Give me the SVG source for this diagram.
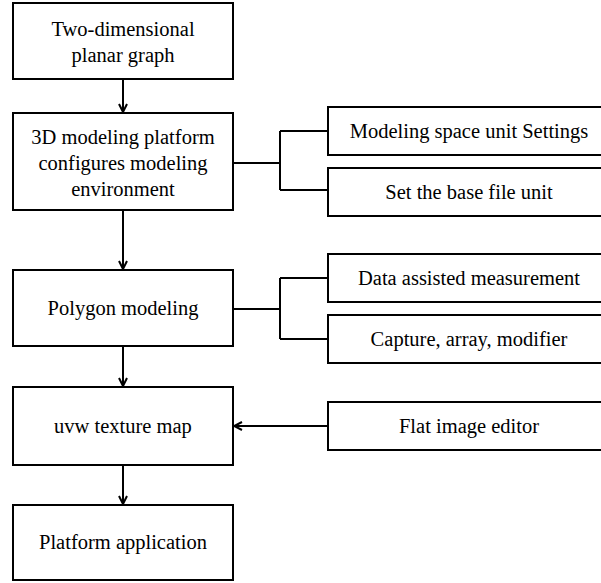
<svg xmlns="http://www.w3.org/2000/svg" width="601" height="583" viewBox="0 0 601 583">
  <style>
    .box { fill: #ffffff; stroke: #000000; stroke-width: 2; }
    .lbl { font-family: "Liberation Serif", "Times New Roman", Times, serif; font-size: 20.5px; fill: #000000; text-anchor: middle; }
    .wire { fill: none; stroke: #000000; stroke-width: 2; }
  </style>
  <defs>
    <!-- open chevron arrowhead -->
    <marker id="chev" viewBox="0 0 10 10" refX="9" refY="5" markerWidth="10" markerHeight="10" markerUnits="userSpaceOnUse" orient="auto">
      <path d="M1,1 L9,5 L1,9" fill="none" stroke="#000000" stroke-width="2"/>
    </marker>
  </defs>
  <rect width="601" height="583" fill="#ffffff"/>

  <g id="connectors">
    <line class="wire" x1="123" y1="79" x2="123" y2="112" marker-end="url(#chev)"/>
    <line class="wire" x1="123" y1="211" x2="123" y2="269" marker-end="url(#chev)"/>
    <line class="wire" x1="123" y1="347" x2="123" y2="386" marker-end="url(#chev)"/>
    <line class="wire" x1="123" y1="466" x2="123" y2="504" marker-end="url(#chev)"/>
    <!-- bracket joins to the side boxes -->
    <path class="wire" d="M233,163 H280 M280,131 V190 M280,131 H328 M280,190 H328"/>
    <path class="wire" d="M233,309 H280 M280,278 V339 M280,278 H328 M280,339 H328"/>
    <line class="wire" x1="328" y1="426" x2="234" y2="426" marker-end="url(#chev)"/>
  </g>

  <g id="planar-graph">
    <rect class="box" x="13" y="3" width="220" height="76"/>
    <text class="lbl" x="123" y="36">Two-dimensional</text>
    <text class="lbl" x="123" y="62">planar graph</text>
  </g>
  <g id="modeling-environment">
    <rect class="box" x="13" y="113" width="220" height="97"/>
    <text class="lbl" x="123" y="144">3D modeling platform</text>
    <text class="lbl" x="123" y="170">configures modeling</text>
    <text class="lbl" x="123" y="196">environment</text>
  </g>
  <g id="space-unit">
    <rect class="box" x="328" y="107" width="285" height="48"/>
    <text class="lbl" x="469" y="138">Modeling space unit Settings</text>
  </g>
  <g id="base-file-unit">
    <rect class="box" x="328" y="168" width="285" height="48"/>
    <text class="lbl" x="469" y="199">Set the base file unit</text>
  </g>
  <g id="polygon-modeling">
    <rect class="box" x="13" y="270" width="220" height="76"/>
    <text class="lbl" x="123" y="315">Polygon modeling</text>
  </g>
  <g id="measurement">
    <rect class="box" x="328" y="254" width="285" height="48"/>
    <text class="lbl" x="469" y="285">Data assisted measurement</text>
  </g>
  <g id="capture-array">
    <rect class="box" x="328" y="315" width="285" height="48"/>
    <text class="lbl" x="469" y="346">Capture, array, modifier</text>
  </g>
  <g id="uvw-map">
    <rect class="box" x="13" y="387" width="220" height="78"/>
    <text class="lbl" x="123" y="433">uvw texture map</text>
  </g>
  <g id="image-editor">
    <rect class="box" x="328" y="402" width="285" height="48"/>
    <text class="lbl" x="469" y="433">Flat image editor</text>
  </g>
  <g id="platform-application">
    <rect class="box" x="13" y="505" width="220" height="75"/>
    <text class="lbl" x="123" y="549">Platform application</text>
  </g>
</svg>
